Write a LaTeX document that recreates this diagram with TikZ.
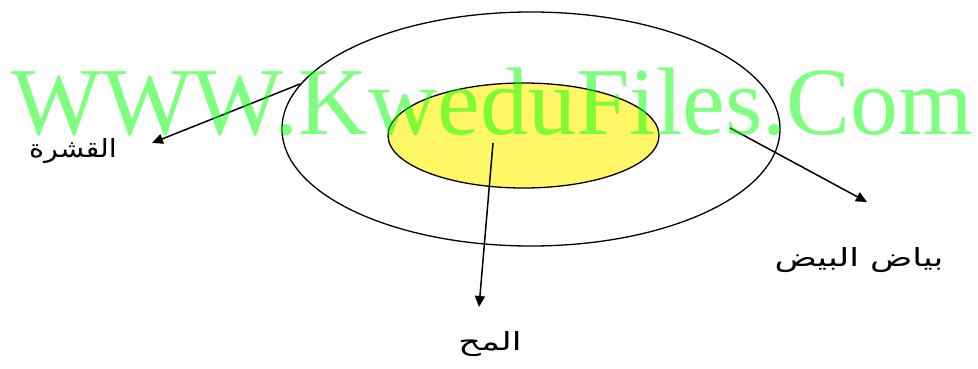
\documentclass[tikz,border=0pt]{standalone}
\usepackage{fontspec}
\setmainfont{Liberation Serif}
\newfontfamily\arabicfont[Script=Arabic]{DejaVu Sans}
\TeXXeTstate=1
\usetikzlibrary{shapes.geometric, arrows.meta}
\begin{document}
\begin{tikzpicture}[x=1pt,y=-1pt,
  part/.style={draw, ellipse, line width=1.3pt, inner sep=0pt},
  label/.style={font=\arabicfont\fontsize{25}{30}\selectfont, inner sep=1pt, xscale=1.4},
  arrow/.style={-{Triangle[length=11pt,width=10pt]}, line width=1.5pt}
]
\useasboundingbox (0,0) rectangle (978,369);
\node[part, minimum width=498pt, minimum height=234pt] at (531,129) (white) {};
\node[part, fill=yellow!60, minimum width=271pt, minimum height=105pt] at (523.5,135.5) (yolk) {};

\node[label, xscale=0.82] at (73,151) (shell) {\beginR القشرة\endR};
\node[label] at (859,260) (albumen) {\beginR بياض البيض\endR};
\node[label] at (490,344) (yolklabel) {\beginR المح\endR};

\coordinate (shellfrom) at (300,84);
\coordinate (shellto) at (152,143);
\coordinate (albumenfrom) at (730,128);
\coordinate (albumento) at (867,202);
\coordinate (yolkfrom) at (493,143);
\coordinate (yolkto) at (479,307);

\draw[arrow] (shellfrom) -- (shellto);
\draw[arrow] (albumenfrom) -- (albumento);
\draw[arrow] (yolkfrom) -- (yolkto);

% watermark
\node[anchor=base, inner sep=0pt, text=green, opacity=0.5, font=\fontsize{96}{96}\selectfont] at (492.5,135) (mark) {WWW.KweduFiles.Com};
\end{tikzpicture}
\end{document}
